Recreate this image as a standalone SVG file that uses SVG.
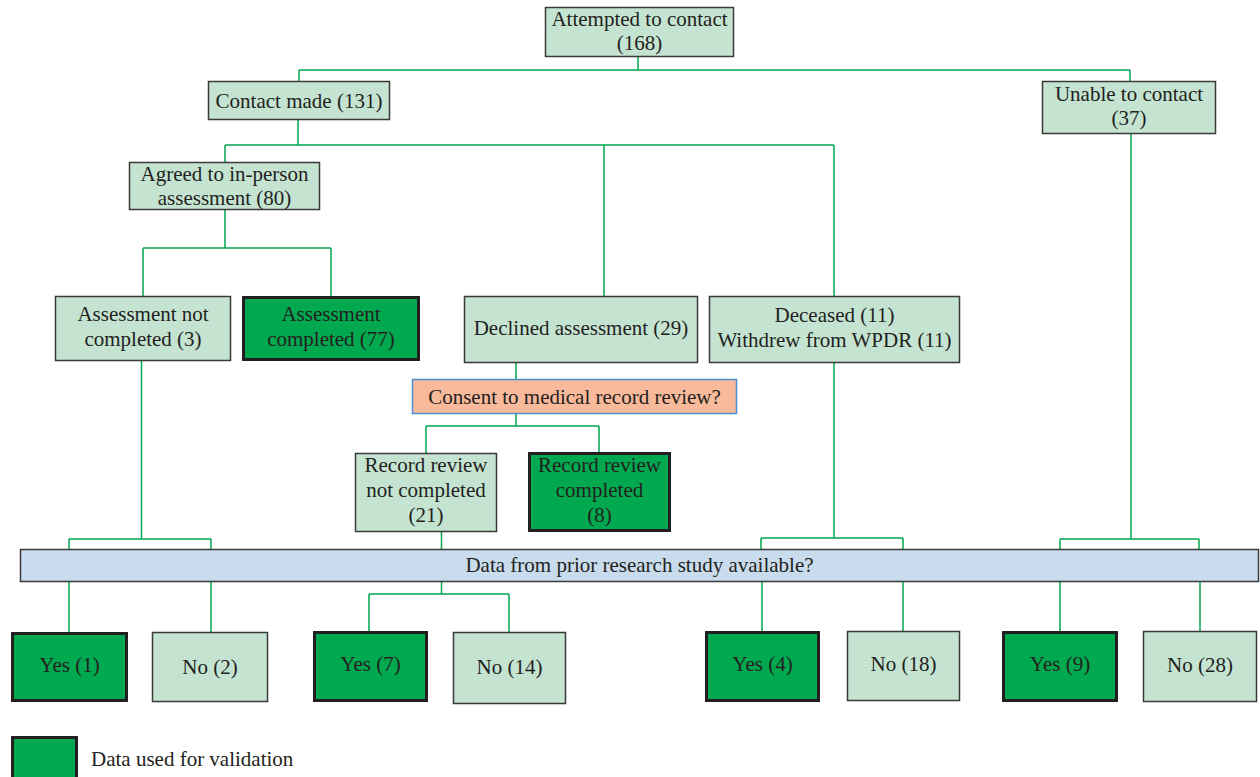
<svg xmlns="http://www.w3.org/2000/svg" width="1260" height="777" viewBox="0 0 1260 777">
<style>
.lt{fill:#c5e3d1;stroke:#3a3a3a;stroke-width:1.5}
.dk{fill:#00a84f;stroke:#231f20;stroke-width:3}
.cs{fill:#f9b99b;stroke:#4a8fd6;stroke-width:1.5}
.db{fill:#c9dcee;stroke:#3a3a3a;stroke-width:1.5}
text{font-family:"Liberation Serif","Times New Roman",serif;font-size:21px;fill:#231f20;text-anchor:middle}
.cn{fill:none;stroke:#00a651;stroke-width:1.5}
</style>
<rect width="1260" height="777" fill="#ffffff"/>
<g id="connectors" class="cn">
<path d="M638 57V70M299 70H1130M299 70V81M1130 70V81"/>
<path d="M298 120V145M225 145H834M225 145V162M604 145V296M834 145V296"/>
<path d="M225 210V248M143 248H331M143 248V296M331 248V296"/>
<path d="M141.5 361V539M69 539H211M69 539V549M211 539V549"/>
<path d="M516 363V379M516 414V426M426 426H599M426 426V453M599 426V453"/>
<path d="M441.5 532V549"/>
<path d="M834 363V538M761 538H903M761 538V549M903 538V549"/>
<path d="M1131 134V539M1060 539H1199M1060 539V549M1199 539V549"/>
<path d="M69 582V632M211 582V632M441.5 582V594M369 594H509M369 594V631M509 594V632"/>
<path d="M762 582V631M903 582V631M1060 582V631M1200 582V631"/>
</g>
<g id="attempted"><rect class="lt" x="545.5" y="7.5" width="188" height="49"/><text x="639.5" y="25.5">Attempted to contact</text><text x="639.5" y="50">(168)</text></g>
<g id="contact"><rect class="lt" x="208.5" y="81.5" width="181" height="38"/><text x="299" y="107.5">Contact made (131)</text></g>
<g id="unable"><rect class="lt" x="1042.5" y="81.5" width="173" height="52"/><text x="1129" y="100.5">Unable to contact</text><text x="1129" y="125">(37)</text></g>
<g id="agreed"><rect class="lt" x="129.5" y="162.5" width="190" height="47"/><text x="224.5" y="180.5">Agreed to in-person</text><text x="224.5" y="204.5">assessment (80)</text></g>
<g id="notcompleted"><rect class="lt" x="55.5" y="296.5" width="175" height="64"/><text x="143" y="321">Assessment not</text><text x="143" y="346">completed (3)</text></g>
<g id="completed"><rect class="dk" x="243.5" y="297.5" width="175" height="62"/><text x="331" y="321">Assessment</text><text x="331" y="346">completed (77)</text></g>
<g id="declined"><rect class="lt" x="464.5" y="296.5" width="233" height="66"/><text x="581" y="335">Declined assessment (29)</text></g>
<g id="deceased"><rect class="lt" x="709.5" y="296.5" width="250" height="66"/><text x="834.5" y="322">Deceased (11)</text><text x="834.5" y="347">Withdrew from WPDR (11)</text></g>
<g id="consent"><rect class="cs" x="412.5" y="379.5" width="324" height="34"/><text x="574.5" y="403.5">Consent to medical record review?</text></g>
<g id="rrnot"><rect class="lt" x="355.5" y="453.5" width="141" height="78"/><text x="426" y="472">Record review</text><text x="426" y="497">not completed</text><text x="426" y="522">(21)</text></g>
<g id="rrdone"><rect class="dk" x="529.5" y="453.5" width="140" height="77"/><text x="599.5" y="472">Record review</text><text x="599.5" y="497">completed</text><text x="599.5" y="522">(8)</text></g>
<g id="priordata"><rect class="db" x="20.5" y="549.5" width="1238" height="32"/><text x="639.5" y="571.5">Data from prior research study available?</text></g>
<g id="yes1"><rect class="dk" x="12.5" y="633.5" width="114" height="67"/><text x="69.5" y="672">Yes (1)</text></g>
<g id="no2"><rect class="lt" x="152.5" y="632.5" width="115" height="69"/><text x="210" y="673.5">No (2)</text></g>
<g id="yes7"><rect class="dk" x="314.5" y="632.5" width="112" height="68"/><text x="370.5" y="671">Yes (7)</text></g>
<g id="no14"><rect class="lt" x="453.5" y="632.5" width="112" height="71"/><text x="509.5" y="673.5">No (14)</text></g>
<g id="yes4"><rect class="dk" x="706.5" y="632.5" width="112" height="68"/><text x="762.5" y="671">Yes (4)</text></g>
<g id="no18"><rect class="lt" x="847.5" y="631.5" width="112" height="69"/><text x="903.5" y="671">No (18)</text></g>
<g id="yes9"><rect class="dk" x="1003.5" y="632.5" width="113" height="68"/><text x="1060" y="671">Yes (9)</text></g>
<g id="no28"><rect class="lt" x="1143.5" y="631.5" width="113" height="70"/><text x="1200" y="672">No (28)</text></g>
<g id="legend"><rect class="dk" x="12.5" y="737.5" width="64" height="50"/><text x="91" y="765.5" style="text-anchor:start">Data used for validation</text></g>
</svg>
